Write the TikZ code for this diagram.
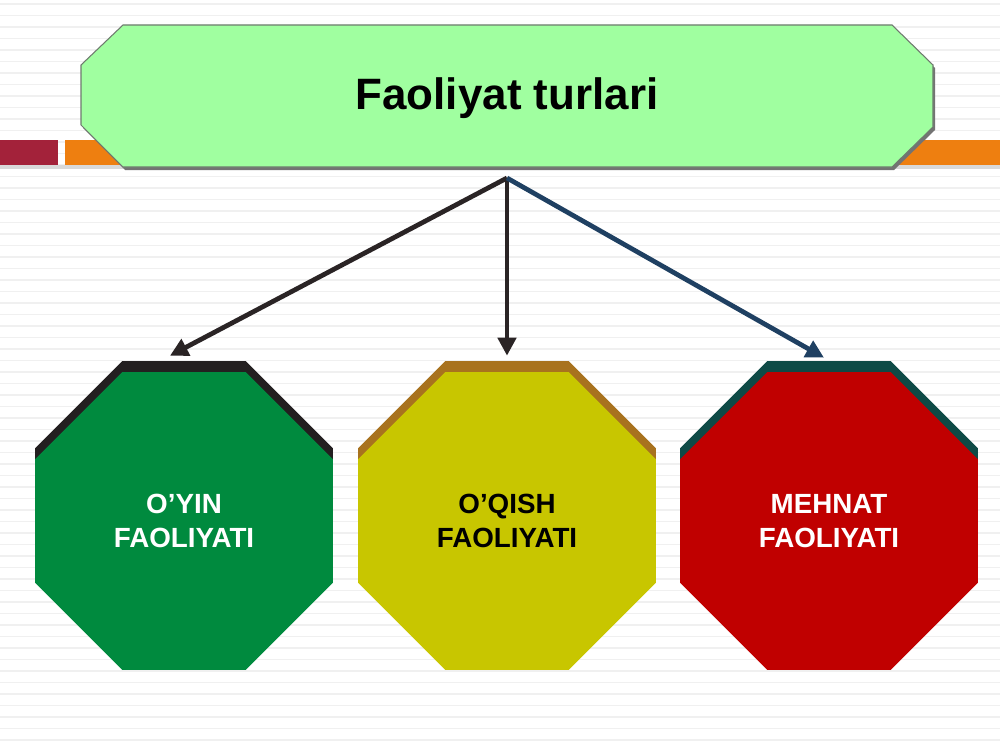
\documentclass[tikz,border=0pt]{standalone}
\usepackage{fontspec}
\setmainfont{Liberation Sans}
\usetikzlibrary{arrows.meta,shapes.geometric,calc}
\definecolor{vline}{HTML}{F0F0F0}
\definecolor{vbox}{HTML}{A0FFA0}
\definecolor{vborder}{HTML}{6E7A6E}
\definecolor{vred}{HTML}{A3223A}
\definecolor{vorange}{HTML}{EE7F10}
\definecolor{vgreen}{HTML}{008A3E}
\definecolor{vyellow}{HTML}{C8C600}
\definecolor{vcrimson}{HTML}{C00000}
\definecolor{vgreenb}{HTML}{231F20}
\definecolor{vyellowb}{HTML}{A8721E}
\definecolor{vcrimsonb}{HTML}{0E4A46}
\definecolor{vdark}{HTML}{2A2425}
\definecolor{vblue}{HTML}{1F4062}
\tikzset{
  oct/.style={regular polygon,regular polygon sides=8,minimum size=6.45cm,inner sep=0pt,align=center,font=\fontsize{15.8}{19}\selectfont\bfseries},
  octback/.style={regular polygon,regular polygon sides=8,minimum size=6.45cm,inner sep=0pt},
  arr/.style={-{Triangle[length=0.36cm,width=0.36cm]},line width=0.095cm},
  bgline/.style={draw=vline,line width=0.035cm},
}
\begin{document}
\begin{tikzpicture}[x=0.02cm,y=-0.02cm]
  \useasboundingbox (0,0) rectangle (1000,750);
  % papel pautado
  \fill[white] (0,0) rectangle (1000,750);
  \foreach \y in {4,15.5,...,750} { \draw[bgline] (0,\y) -- (1000,\y); }
  % faixas
  \fill[black!15] (0,165) rectangle (1000,169);
  \fill[vred] (0,140) rectangle (58,165);
  \fill[vorange] (65,140) rectangle (1000,165);
  % caixa do titulo
  \fill[black!55] (125,28) -- (894,28) -- (935,68) -- (935,130) -- (894,170) -- (125,170) -- (83,128) -- (83,68) -- cycle;
  \draw[vborder,fill=vbox,line width=0.6pt] (123,25) -- (892,25) -- (933,65) -- (933,127) -- (892,167) -- (123,167) -- (81,125) -- (81,65) -- cycle;
  \node[font=\fontsize{25}{30}\selectfont\bfseries] (title) at (507,98) {Faoliyat turlari};
  \coordinate (hub) at (507,178);
  % octogonos
  \node[octback,fill=vgreenb] (oyinB) at (184,510) {};
  \node[oct,fill=vgreen,text=white] (oyin) at (184,521) {O’YIN\\FAOLIYATI};
  \node[octback,fill=vyellowb] (oqishB) at (507,510) {};
  \node[oct,fill=vyellow,text=black] (oqish) at (507,521) {O’QISH\\FAOLIYATI};
  \node[octback,fill=vcrimsonb] (mehnatB) at (829,510) {};
  \node[oct,fill=vcrimson,text=white] (mehnat) at (829,521) {MEHNAT\\FAOLIYATI};
  % setas
  \draw[arr,vdark] (hub) -- ([xshift=-0.28cm,yshift=0.1cm]oyinB.north);
  \draw[arr,vdark] (hub) -- ([yshift=0.1cm]oqishB.north);
  \draw[arr,vblue] (hub) -- ([xshift=-0.1cm,yshift=0.06cm]mehnatB.north);
\end{tikzpicture}
\end{document}
